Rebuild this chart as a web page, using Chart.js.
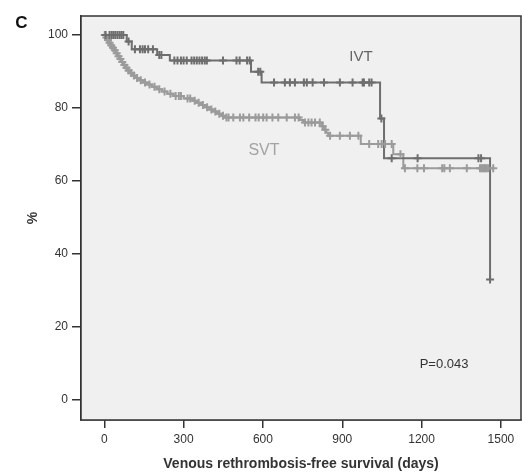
<!DOCTYPE html>
<html>
<head>
<meta charset="utf-8">
<script src="https://cdn.jsdelivr.net/npm/chart.js@4/dist/chart.umd.min.js"></script>
<style>
html, body { margin: 0; padding: 0; background: #fff; }
#wrap { width: 522px; height: 475px; }
</style>
</head>
<body>
<div id="wrap"><canvas id="km-chart" width="522" height="475"></canvas></div>
<script>
// IVT: event times (days) and survival (%)
let ivt_time = [0, 85, 104, 200, 248, 555, 595, 1043, 1058, 1459];
let ivt_surv = [100, 98.2, 96.1, 94.5, 93.0, 89.9, 87.0, 77.1, 66.2, 33.0];
// IVT censored cases (days)
let ivt_cens = [5, 20, 28, 35, 42, 50, 58, 65, 72, 92, 116, 135, 145, 154, 166, 184, 208, 216,
  265, 277, 290, 300, 312, 330, 340, 350, 360, 370, 380, 388, 449, 500, 512, 540, 550, 582, 590,
  642, 683, 702, 721, 755, 766, 788, 831, 891, 939, 977, 982, 1002, 1011, 1048, 1087, 1185,
  1415, 1425, 1459];

// SVT: event times (days) and survival (%)
let svt_time = [0, 5, 11, 17, 23, 30, 37, 44, 51, 58, 65, 72, 80, 88, 97, 107, 118, 131, 146, 162,
  180, 199, 218, 238, 262, 300, 335, 350, 365, 381, 397, 413, 428, 443, 455, 740, 752, 822, 832,
  840, 847, 970, 1093, 1131, 1471];
let svt_surv = [100, 99.3, 98.6, 97.9, 97.2, 96.5, 95.8, 95.0, 94.2, 93.4, 92.6, 91.8, 91.0, 90.3,
  89.6, 88.9, 88.2, 87.6, 87.0, 86.4, 85.8, 85.1, 84.5, 83.9, 83.3, 82.6, 82.0, 81.4, 80.8, 80.2,
  79.6, 79.0, 78.4, 77.9, 77.4, 76.7, 76.0, 75.0, 74.0, 73.2, 72.4, 70.1, 67.3, 63.5, 63.5];
// SVT censored cases (days)
let svt_cens = [2, 8, 14, 20, 26, 33, 40, 47, 54, 61, 68, 76, 84, 92, 102, 112, 124, 138, 154, 171,
  190, 208, 228, 250, 270, 282, 290, 315, 325, 342, 357, 373, 389, 405, 420, 435, 449,
  462, 470, 488, 513, 526, 548, 572, 584, 601, 614, 636, 658, 690, 721, 735, 759, 772, 784, 797,
  815, 826, 836, 854, 891, 929, 961, 1002, 1036, 1049, 1062, 1087, 1120, 1137, 1184, 1209, 1278,
  1286, 1307, 1371, 1421, 1426, 1431, 1436, 1441, 1446, 1452, 1471];

let x_ticks = [0, 300, 600, 900, 1200, 1500];
let y_ticks = [0, 20, 40, 60, 80, 100];

// text notes in data units
let notes = [
  { text: "IVT", x: 971, y: 94.1, color: "#666", size: 15 },
  { text: "SVT", x: 604, y: 68.3, color: "#a3a3a3", size: 16 },
  { text: "P=0.043", x: 1285, y: 9.8, color: "#333", size: 13 }
];

const FONT = "'Liberation Sans', Arial, Helvetica, sans-serif";

// KM level of a curve at day t (censor marks sit on the curve)
function levelAt(times, surv, t) {
  let s = surv[0];
  for (let i = 0; i < times.length; i++) { if (times[i] <= t) s = surv[i]; }
  return s;
}
const toPts = (xs, ys) => xs.map((v, i) => ({ x: v, y: ys[i] }));
const censPts = (cens, times, surv) => cens.map(t => ({ x: t, y: levelAt(times, surv, t) }));

const frame = {
  id: 'frame',
  beforeDatasetsDraw(chart) {
    const a = chart.chartArea, ctx = chart.ctx;
    ctx.save();
    ctx.fillStyle = '#f0f0f0';
    ctx.fillRect(a.left, a.top, a.right - a.left, a.bottom - a.top);
    ctx.restore();
  },
  afterDraw(chart) {
    const a = chart.chartArea, ctx = chart.ctx;
    const xs = chart.scales.x, ys = chart.scales.y;
    ctx.save();
    ctx.strokeStyle = '#333';
    ctx.lineWidth = 1.5;
    ctx.strokeRect(a.left, a.top, a.right - a.left, a.bottom - a.top);
    ctx.textAlign = 'center';
    ctx.textBaseline = 'middle';
    notes.forEach(n => {
      ctx.fillStyle = n.color;
      ctx.font = n.size + 'px ' + FONT;
      ctx.fillText(n.text, xs.getPixelForValue(n.x), ys.getPixelForValue(n.y));
    });
    ctx.fillStyle = '#111';
    ctx.font = 'bold 17px ' + FONT;
    ctx.fillText('C', 21.5, 23.5);
    ctx.restore();
  }
};

var ctx = document.getElementById('km-chart');
let myChart = new Chart(ctx, {
  type: 'line',
  data: {
    datasets: [
      { data: censPts(ivt_cens, ivt_time, ivt_surv), showLine: false,
        pointStyle: 'cross', pointRadius: 4,
        borderColor: '#6e6e6e', borderWidth: 2 },
      { data: censPts(svt_cens, svt_time, svt_surv), showLine: false,
        pointStyle: 'cross', pointRadius: 4,
        borderColor: '#9b9b9b', borderWidth: 2 },
      { data: toPts(ivt_time, ivt_surv), stepped: 'before', pointRadius: 0,
        borderColor: '#6e6e6e', borderWidth: 2, fill: false },
      { data: toPts(svt_time, svt_surv), stepped: 'before', pointRadius: 0,
        borderColor: '#9b9b9b', borderWidth: 2, fill: false }
    ]
  },
  options: {
    responsive: false,
    animation: false,
    layout: { autoPadding: false, padding: { top: 16, right: 1, left: 0, bottom: 0 } },
    plugins: { legend: { display: false }, tooltip: { enabled: false } },
    scales: {
      x: {
        type: 'linear', min: -88, max: 1576,
        afterFit(s) { s.height = 55; s.paddingLeft = 0; s.paddingRight = 0; },
        afterBuildTicks(s) { s.ticks = x_ticks.map(v => ({ value: v })); },
        grid: { drawOnChartArea: false, drawTicks: true, tickLength: 8, tickColor: '#333', lineWidth: 1.5 },
        border: { color: '#333', width: 1.5 },
        ticks: { color: '#333', padding: 4, maxRotation: 0, callback: v => String(v),
                 font: { family: FONT, size: 12 } },
        title: { display: true, text: 'Venous rethrombosis-free survival (days)', color: '#333',
                 padding: { top: 0, bottom: 2 }, font: { family: FONT, size: 14, weight: 'bold' } }
      },
      y: {
        type: 'linear', min: -5.5, max: 105.2,
        afterFit(s) { s.width = 81; s.paddingTop = 0; s.paddingBottom = 0; },
        afterBuildTicks(s) { s.ticks = y_ticks.map(v => ({ value: v })); },
        grid: { drawOnChartArea: false, drawTicks: true, tickLength: 9, tickColor: '#333', lineWidth: 1.5 },
        border: { color: '#333', width: 1.5 },
        ticks: { color: '#333', padding: 4, font: { family: FONT, size: 12 } },
        title: { display: true, text: '%', color: '#333',
                 padding: { top: 25, bottom: 0 }, font: { family: FONT, size: 14, weight: 'bold' } }
      }
    }
  },
  plugins: [frame]
});
</script>
</body>
</html>
